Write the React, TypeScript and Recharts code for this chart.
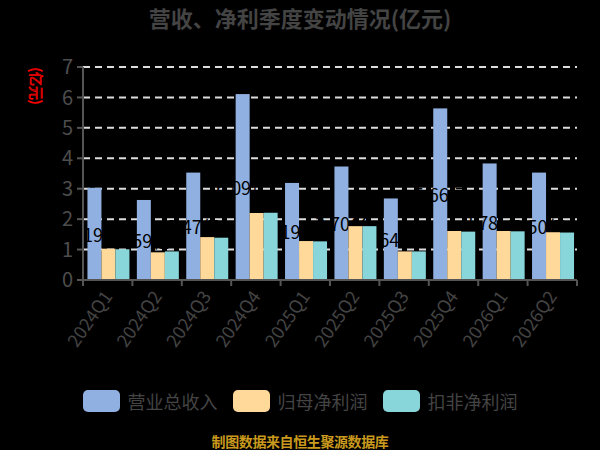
import React from 'react';
import { BarChart, Bar, XAxis, YAxis, CartesianGrid } from 'recharts';

const quarters = ['2024Q1', '2024Q2', '2024Q3', '2024Q4', '2025Q1', '2025Q2', '2025Q3', '2025Q4', '2026Q1', '2026Q2'];
const revenue = [3.03, 2.63, 3.53, 6.11, 3.19, 3.73, 2.68, 5.64, 3.83, 3.53];
const netProfit = [1.03, 0.91, 1.41, 2.2, 1.28, 1.77, 0.94, 1.61, 1.61, 1.57];
const deductedProfit = [1.01, 0.94, 1.39, 2.21, 1.27, 1.77, 0.94, 1.59, 1.6, 1.56];
const revenueLabels = ['3.19', '2.59', '3.47', '6.09', '3.19', '3.70', '2.64', '5.66', '3.78', '3.50'];
const seriesNames = ['营业总收入', '归母净利润', '扣非净利润'];
const seriesColors = ['#8fb0e0', '#ffd99a', '#88d6da'];
const yTicks = [0, 1, 2, 3, 4, 5, 6, 7];
const gridValues = [1, 2, 3, 4, 5, 6, 7];

const data = quarters.map((q, i) => ({
  quarter: q,
  revenue: revenue[i],
  net: netProfit[i],
  deducted: deductedProfit[i],
  label: revenueLabels[i],
}));

const WIDTH = 600;
const HEIGHT = 450;
const Y_AXIS_W = 60;
const X_AXIS_H = 60;
const margin = { top: 67, right: 23, bottom: 110, left: 23 };
const band = (WIDTH - margin.left - Y_AXIS_W - margin.right) / quarters.length;
const FONT = '"Noto Sans CJK SC", "Noto Sans", sans-serif';

const QuarterTick = (props: any) => {
  const { x, y, payload, index } = props;
  const half = band / 2;
  const axisY = y - 8;
  return (
    <g>
      <line x1={x - half} x2={x - half} y1={axisY} y2={axisY + 6} stroke="#555" strokeWidth={2} />
      {index === quarters.length - 1 && (
        <line x1={x + half} x2={x + half} y1={axisY} y2={axisY + 6} stroke="#555" strokeWidth={2} />
      )}
      <text
        transform={`translate(${x - 1},${y + 4}) rotate(-55)`}
        textAnchor="end"
        dominantBaseline="central"
        fill="#444"
        fontSize={18}
        fontFamily={FONT}
      >
        {payload.value}
      </text>
    </g>
  );
};

// revenue bar with its label drawn in the same layer, so the later bars cover the label
const RevenueShape = (props: any) => {
  const { x, y, width, height, fill, payload } = props;
  return (
    <g>
      <rect x={x} y={y} width={width} height={height} fill={fill} />
      <text
        x={x + width / 2}
        y={y + height / 2}
        textAnchor="middle"
        dominantBaseline="central"
        fill="#000"
        fontSize={18}
        fontFamily={FONT}
      >
        {`${payload.label}亿`}
      </text>
    </g>
  );
};

export default function App() {
  return (
    <div
      style={{
        position: 'absolute',
        left: 0,
        top: 0,
        width: WIDTH,
        height: HEIGHT,
        background: '#000',
        fontFamily: FONT,
      }}
    >
      <div
        style={{
          position: 'absolute',
          top: 3,
          width: WIDTH,
          textAlign: 'center',
          fontSize: 22,
          fontWeight: 'bold',
          color: '#444',
          lineHeight: '28px',
        }}
      >
        营收、净利季度变动情况(亿元)
      </div>
      <div
        style={{
          position: 'absolute',
          left: 37,
          top: 86,
          transform: 'translate(-50%, -50%) rotate(90deg)',
          fontSize: 14,
          color: 'transparent',
          WebkitTextStroke: '0.8px #ff0000',
          whiteSpace: 'nowrap',
          lineHeight: '14px',
        }}
      >
        (亿元)
      </div>
      <BarChart width={WIDTH} height={HEIGHT} data={data} margin={margin} barCategoryGap="9%" barGap={0}>
        <CartesianGrid
          vertical={false}
          horizontalValues={gridValues}
          stroke="#ddd"
          strokeWidth={2}
          strokeDasharray="7 5"
        />
        <XAxis
          dataKey="quarter"
          height={X_AXIS_H}
          interval={0}
          tickLine={false}
          tickSize={6}
          tickMargin={2}
          axisLine={{ stroke: '#555', strokeWidth: 2 }}
          tick={<QuarterTick />}
        />
        <YAxis
          width={Y_AXIS_W}
          domain={[0, 7]}
          ticks={yTicks}
          interval={0}
          tickSize={6}
          tickMargin={4}
          axisLine={{ stroke: '#555', strokeWidth: 2 }}
          tickLine={{ stroke: '#555', strokeWidth: 2 }}
          tick={{ fill: '#4d4d4d', fontSize: 20, fontFamily: FONT }}
        />
        <Bar
          dataKey="revenue"
          name={seriesNames[0]}
          fill={seriesColors[0]}
          shape={<RevenueShape />}
          isAnimationActive={false}
        />
        <Bar dataKey="net" name={seriesNames[1]} fill={seriesColors[1]} isAnimationActive={false} />
        <Bar dataKey="deducted" name={seriesNames[2]} fill={seriesColors[2]} isAnimationActive={false} />
      </BarChart>
      <div
        style={{
          position: 'absolute',
          top: 390,
          left: 0,
          width: WIDTH,
          display: 'flex',
          justifyContent: 'center',
          gap: 15,
        }}
      >
        {seriesNames.map((name, i) => (
          <div key={name} style={{ display: 'flex', alignItems: 'center', gap: 8 }}>
            <div style={{ width: 37, height: 22, borderRadius: 5, background: seriesColors[i] }} />
            <span style={{ fontSize: 18, color: '#444', lineHeight: '22px' }}>{name}</span>
          </div>
        ))}
      </div>
      <div
        style={{
          position: 'absolute',
          top: 432,
          width: WIDTH,
          textAlign: 'center',
          fontSize: 14,
          fontWeight: 'bold',
          color: '#c99a1e',
          letterSpacing: -0.4,
          lineHeight: '18px',
        }}
      >
        制图数据来自恒生聚源数据库
      </div>
    </div>
  );
}
